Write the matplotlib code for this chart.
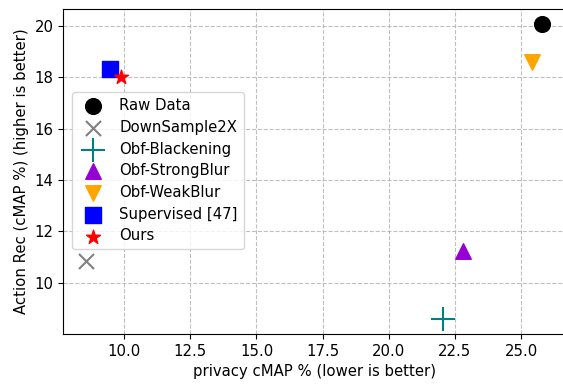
import matplotlib
matplotlib.use("Agg")
import matplotlib.pyplot as plt

# Methods, privacy cMAP (x) and action cMAP (y)
methods = ["Raw Data", "DownSample2X", "Obf-Blackening", "Obf-StrongBlur",
           "Obf-WeakBlur", "Supervised [47]", "Ours"]
privacy = [25.8, 8.56, 22.06, 22.8, 25.4, 9.47, 9.89]
action = [20.09, 10.86, 8.58, 11.25, 18.6, 18.34, 18.02]

markers = ["o", "x", "+", "^", "v", "s", "*"]
colors = ["black", "gray", "teal", "darkviolet", "orange", "blue", "red"]
sizes = [128, 117, 275, 125, 125, 130, 110]

plt.rcParams["font.size"] = 10.75

fig = plt.figure(figsize=(5.63, 3.84), dpi=100)
ax = fig.add_axes([63.3 / 563, 50 / 384, 501.7 / 563, 325 / 384])

for m, x, y, mk, c, s in zip(methods, privacy, action, markers, colors, sizes):
    lw = 1.5 if mk in ("x", "+") else None
    ax.scatter(x, y, marker=mk, color=c, s=s, label=m, linewidths=lw)

ax.grid(True, linestyle="--", color="#b0b0b0", alpha=0.8)
ax.set_axisbelow(True)
ax.set_xlabel("privacy cMAP % (lower is better)")
ax.set_ylabel("Action Rec (cMAP %) (higher is better)")
ax.legend(loc="upper left", bbox_to_anchor=(0.0167, 0.744), borderaxespad=0,
          labelspacing=0.45)

fig.savefig("out.png", dpi=100)
